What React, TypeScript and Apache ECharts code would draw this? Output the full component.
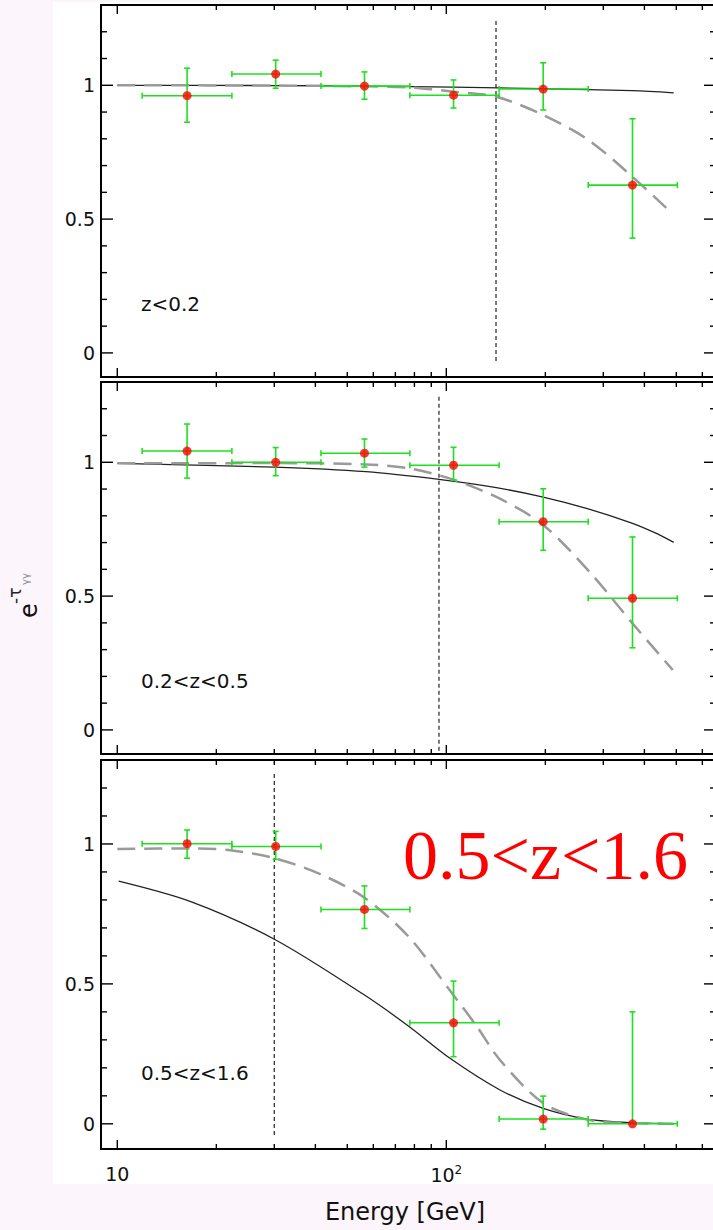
import React, { useEffect, useRef } from "react";
import * as echarts from "echarts";

// ---- data ----
const binCenters = [16.3, 30.3, 56.4, 105.2, 197, 368];
const binLow = [11.9, 22.3, 41.6, 77.5, 144.7, 269.9];
const binHigh = [22.3, 41.6, 77.5, 144.7, 269.9, 503.7];

const panelLabels = ["z<0.2", "0.2<z<0.5", "0.5<z<1.6"];

const val1 = [0.961, 1.042, 0.997, 0.963, 0.986, 0.627];
const low1 = [0.862, 0.989, 0.948, 0.915, 0.908, 0.429];
const high1 = [1.064, 1.094, 1.05, 1.02, 1.084, 0.875];

const val2 = [1.042, 1.0, 1.034, 0.989, 0.778, 0.492];
const low2 = [0.941, 0.95, 0.982, 0.933, 0.671, 0.307];
const high2 = [1.143, 1.055, 1.087, 1.056, 0.901, 0.721];

const val3 = [1.001, 0.991, 0.766, 0.361, 0.017, 0.0];
const low3 = [0.949, 0.945, 0.698, 0.24, -0.019, 0.0];
const high3 = [1.05, 1.045, 0.85, 0.51, 0.099, 0.4];

const solid1 = [[10, 1.0], [30, 0.999], [57, 0.997], [105, 0.993], [197, 0.987], [368, 0.98], [491, 0.972]];
const dashed1 = [[10, 1.0], [30, 0.999], [57, 0.996], [78, 0.992], [105, 0.976], [142, 0.957], [197, 0.889], [270, 0.796], [368, 0.658], [480, 0.527]];

const solid2 = [[10, 0.996], [30, 0.982], [57, 0.965], [95, 0.936], [142, 0.905], [197, 0.87], [270, 0.826], [368, 0.772], [430, 0.737], [491, 0.701]];
const dashed2 = [[10, 0.996], [30, 0.997], [57, 0.992], [78, 0.976], [105, 0.935], [145, 0.865], [197, 0.766], [275, 0.585], [368, 0.398], [488, 0.224]];

const solid3 = [[10.1, 0.867], [16.8, 0.793], [30.3, 0.657], [56.4, 0.46], [77.2, 0.347], [102.6, 0.234], [145.6, 0.121], [197, 0.055], [270, 0.016], [368, 0.004], [491, 0.0]];
const dashed3 = [[10, 0.982], [16.8, 0.984], [22.3, 0.977], [30.3, 0.948], [41.6, 0.891], [56.4, 0.808], [77.2, 0.666], [102.6, 0.476], [124, 0.347], [145.6, 0.228], [197, 0.074], [270, 0.014], [368, 0.003], [491, 0.0]];

const vlineE = [141.6, 95, 30];
const vlineTop = [1.24, 1.245, 1.25];
const vlineBottom = [-0.04, -0.09, -0.046];

const xMajorTicks = [10, 100];
const xMinorTicks = [20, 30, 40, 50, 60, 70, 80, 90, 200, 300, 400, 500, 600];
const yMajorTicks = [0, 0.5, 1];
const yTickLabels = ["0", "0.5", "1"];
const yMinorTicks = [0.1, 0.2, 0.3, 0.4, 0.6, 0.7, 0.8, 0.9, 1.1, 1.2];

const bigLabel = "0.5<z<1.6";
const xTitle = "Energy [GeV]";

// ---- layout ----
const XMIN = 8.923;
const XMAX = 660.2;
const YMIN = -0.09;
const YMAX = 1.3;
const gridTops = [5, 382, 760];
const gridHeights = [372, 372, 389];

const values = [val1, val2, val3];
const lows = [low1, low2, low3];
const highs = [high1, high2, high3];
const solids = [solid1, solid2, solid3];
const dasheds = [dashed1, dashed2, dashed3];

const FONT = "DejaVu Sans";
const GREEN = "#1fe01f";

function buildOption() {
  const grid: any[] = [];
  const xAxis: any[] = [];
  const yAxis: any[] = [];
  const series: any[] = [];

  const tickItems = [
    ...xMajorTicks.map((v) => [v, 0, 0, 0]),
    ...xMinorTicks.map((v) => [v, 0, 1, 0]),
    ...yMajorTicks.map((v, i) => [XMIN, v, 2, i]),
    ...yMinorTicks.map((v) => [XMIN, v, 3, 0]),
  ];

  for (let i = 0; i < 3; i++) {
    grid.push({
      left: 101,
      right: 4,
      top: gridTops[i],
      height: gridHeights[i],
      show: true,
      borderColor: "#000",
      borderWidth: 2,
      backgroundColor: "transparent",
      outerBoundsMode: "none",
    });
    xAxis.push({
      type: "log",
      logBase: 10,
      min: XMIN,
      max: XMAX,
      gridIndex: i,
      axisLine: { show: false },
      axisTick: { show: false },
      splitLine: { show: false },
      minorTick: { show: false },
      axisLabel: {
        show: i === 2,
        margin: 15,
        formatter: (v: number) => {
          const l = Math.log10(v);
          if (Math.abs(l - 1) < 1e-6) return "{a|10}";
          if (Math.abs(l - 2) < 1e-6) return "{a|10}{s|2}";
          return "";
        },
        rich: {
          a: { fontFamily: FONT, fontSize: 19, color: "#111" },
          s: { fontFamily: FONT, fontSize: 12, color: "#111", verticalAlign: "top", padding: [0, 0, 10, 0] },
        },
      },
    });
    yAxis.push({
      type: "value",
      min: YMIN,
      max: YMAX,
      gridIndex: i,
      axisLine: { show: false },
      axisTick: { show: false },
      axisLabel: { show: false },
      splitLine: { show: false },
    });

    // ticks + y labels
    series.push({
      type: "custom",
      xAxisIndex: i,
      yAxisIndex: i,
      silent: true,
      z: 1,
      data: tickItems,
      renderItem: (params: any, api: any) => {
        const cs = params.coordSys;
        const kind = api.value(2);
        const p = api.coord([api.value(0), api.value(1)]);
        const style = { stroke: "#000", lineWidth: 1.4 };
        if (kind <= 1) {
          const L = kind === 0 ? 9 : 5;
          return {
            type: "group",
            children: [
              { type: "line", shape: { x1: p[0], y1: cs.y, x2: p[0], y2: cs.y + L }, style },
              { type: "line", shape: { x1: p[0], y1: cs.y + cs.height, x2: p[0], y2: cs.y + cs.height - L }, style },
            ],
          };
        }
        const L = kind === 2 ? 12 : 6;
        const children: any[] = [
          { type: "line", shape: { x1: cs.x, y1: p[1], x2: cs.x + L, y2: p[1] }, style },
          { type: "line", shape: { x1: cs.x + cs.width, y1: p[1], x2: cs.x + cs.width - L, y2: p[1] }, style },
        ];
        if (kind === 2) {
          children.push({
            type: "text",
            style: {
              text: yTickLabels[api.value(3)],
              x: cs.x - 6,
              y: p[1],
              align: "right",
              verticalAlign: "middle",
              fontFamily: FONT,
              fontSize: 19,
              fill: "#111",
            },
          });
        }
        return { type: "group", children };
      },
    });

    // model curves
    series.push({
      type: "line",
      xAxisIndex: i,
      yAxisIndex: i,
      data: solids[i],
      smooth: 0.3,
      showSymbol: false,
      silent: true,
      z: 3,
      lineStyle: { color: "#222", width: 1.3 },
    });
    series.push({
      type: "line",
      xAxisIndex: i,
      yAxisIndex: i,
      data: dasheds[i],
      smooth: 0.3,
      showSymbol: false,
      silent: true,
      z: 3,
      lineStyle: { color: "#9a9a9a", width: 2.5, type: [18, 9] },
    });
    // vertical dotted line
    series.push({
      type: "line",
      xAxisIndex: i,
      yAxisIndex: i,
      data: [
        [vlineE[i], vlineTop[i]],
        [vlineE[i], vlineBottom[i]],
      ],
      showSymbol: false,
      silent: true,
      z: 3,
      lineStyle: { color: "#222", width: 1.2, type: [4, 3] },
    });
    // error bars
    const v = values[i];
    const lo = lows[i];
    const hi = highs[i];
    series.push({
      type: "custom",
      xAxisIndex: i,
      yAxisIndex: i,
      silent: true,
      z: 4,
      data: binCenters.map((e, k) => [e, v[k], binLow[k], binHigh[k], lo[k], hi[k]]),
      renderItem: (params: any, api: any) => {
        const l = api.coord([api.value(2), api.value(1)]);
        const r = api.coord([api.value(3), api.value(1)]);
        const b = api.coord([api.value(0), api.value(4)]);
        const t = api.coord([api.value(0), api.value(5)]);
        const cap = 3;
        const style = { stroke: GREEN, lineWidth: 1.6 };
        return {
          type: "group",
          children: [
            { type: "line", shape: { x1: l[0], y1: l[1], x2: r[0], y2: r[1] }, style },
            { type: "line", shape: { x1: b[0], y1: b[1], x2: t[0], y2: t[1] }, style },
            { type: "line", shape: { x1: l[0], y1: l[1] - cap, x2: l[0], y2: l[1] + cap }, style },
            { type: "line", shape: { x1: r[0], y1: r[1] - cap, x2: r[0], y2: r[1] + cap }, style },
            { type: "line", shape: { x1: b[0] - cap, y1: b[1], x2: b[0] + cap, y2: b[1] }, style },
            { type: "line", shape: { x1: t[0] - cap, y1: t[1], x2: t[0] + cap, y2: t[1] }, style },
          ],
        };
      },
    });
    // points
    series.push({
      type: "scatter",
      xAxisIndex: i,
      yAxisIndex: i,
      data: binCenters.map((e, k) => [e, v[k]]),
      symbol: "circle",
      symbolSize: 9,
      silent: true,
      z: 5,
      itemStyle: { color: "#ff0000" },
    });
  }

  const labelY = [304, 681, 1073];
  const graphic: any[] = [
    {
      type: "rect",
      z: -100,
      shape: { x: 53, y: 2, width: 700, height: 1182 },
      style: { fill: "#ffffff" },
      silent: true,
    },
    ...panelLabels.map((t, i) => ({
      type: "text",
      z: 100,
      x: 141,
      y: labelY[i],
      style: { text: t, fontFamily: FONT, fontSize: 20, fill: "#111", verticalAlign: "middle", align: "left" },
    })),
    {
      type: "text",
      z: 100,
      x: 403,
      y: 855,
      style: {
        text: bigLabel,
        fontFamily: "Liberation Serif",
        fontSize: 70,
        fill: "#ff0000",
        verticalAlign: "middle",
        align: "left",
      },
    },
    {
      type: "text",
      z: 100,
      x: 405,
      y: 1212,
      style: { text: xTitle, fontFamily: FONT, fontSize: 24, fill: "#111", align: "center", verticalAlign: "middle" },
    },
    {
      type: "group",
      z: 100,
      x: 39,
      y: 618,
      rotation: Math.PI / 2,
      children: [
        { type: "text", x: 0, y: -10, style: { text: "e", fontFamily: FONT, fontSize: 24, fill: "#111", verticalAlign: "middle", align: "left" } },
        { type: "text", x: 14, y: -24, style: { text: "-τ", fontFamily: FONT, fontSize: 17, fill: "#222", verticalAlign: "middle", align: "left" } },
        { type: "text", x: 33, y: -14, style: { text: "γγ", fontFamily: FONT, fontSize: 10, fill: "#888", verticalAlign: "middle", align: "left" } },
      ],
    },
  ];

  return {
    animation: false,
    backgroundColor: "#fcf6fc",
    grid,
    xAxis,
    yAxis,
    series,
    graphic: { elements: graphic },
  };
}

export default function App() {
  const ref = useRef<HTMLDivElement>(null);
  useEffect(() => {
    const chart = echarts.init(ref.current as HTMLDivElement, undefined, { renderer: "svg" });
    chart.setOption(buildOption() as any);
    return () => {
      chart.dispose();
    };
  }, []);
  return (
    <div
      style={{
        position: "absolute",
        left: 0,
        top: 0,
        width: 713,
        height: 1230,
        overflow: "hidden",
        background: "#fcf6fc",
      }}
    >
      <div ref={ref} style={{ width: 720, height: 1230 }} />
    </div>
  );
}
